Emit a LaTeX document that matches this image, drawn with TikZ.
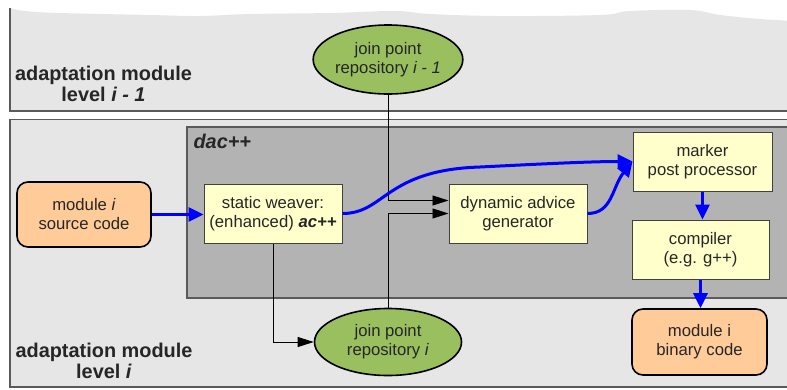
\documentclass[tikz,border=0pt]{standalone}
\usepackage{fontspec}
\setmainfont{Liberation Sans}
\usetikzlibrary{arrows.meta,shapes.geometric}

\definecolor{panelbg}{HTML}{E6E6E6}
\definecolor{panelline}{HTML}{5A5A5A}
\definecolor{dacbg}{HTML}{B3B3B3}
\definecolor{peach}{HTML}{FFCC99}
\definecolor{paleyellow}{HTML}{FFFFCC}
\definecolor{leaf}{HTML}{99BF5F}
\definecolor{flow}{HTML}{0000FF}

\begin{document}
\begin{tikzpicture}[x=1pt,y=-1pt,
  txt/.style={font=\fontsize{16.7}{19}\selectfont, align=center, text=black!85},
  proc/.style={txt, draw=black!75, line width=1pt, fill=paleyellow, inner sep=0pt},
  term/.style={txt, draw=black, line width=1.6pt, fill=peach, rounded corners=11pt, inner sep=0pt},
  repo/.style={txt, ellipse, draw=black, line width=1.6pt, fill=leaf, inner sep=0pt},
  level/.style={font=\fontsize{19.9}{21}\selectfont\bfseries, text=black!85},
  flowarrow/.style={draw=flow, line width=3pt, -{Triangle[length=15pt,width=14pt]}},
  ctrl/.style={draw=black, line width=0.8pt, -{Triangle[length=16pt,width=10pt]}},
  panel/.style={draw=panelline, line width=1.5pt},
]
\useasboundingbox (0,0) rectangle (787,389);

% upper panel with a torn top edge
\fill[panelbg] plot[smooth, tension=0.6] coordinates {(10,8) (25,11) (60,13) (150,15)
  (200,16) (250,14) (330,13) (395,11) (430,14) (500,16) (600,15) (630,11) (690,10)
  (720,15) (760,19) (795,21)} -- (795,111) -- (10,111) -- cycle;
\draw[panel] (10,8) -- (10,111) -- (795,111);

% lower panel
\draw[panel, fill=panelbg] (795,119.5) -- (10,119.5) -- (10,387) -- (795,387);

% dac++ region
\draw[draw=panelline, line width=1.2pt, fill=dacbg] (795,127) -- (187,127) -- (187,298) -- (795,298);

% level captions
\node[level, anchor=base] (upA) at (103.5,80) {adaptation module};
\node[level, anchor=base] (upB) at (103.5,101) {level \textit{i - 1}};
\node[level, anchor=base] (loA) at (104,357) {adaptation module};
\node[level, anchor=base] (loB) at (104,378) {level \textit{i}};
\node[level, anchor=base west] (dac) at (190,148) {\textit{dac++}};

% components
\node[term, minimum width=134, minimum height=65] (src) at (84,214.5) {module \textit{i}\\source code};
\node[proc, minimum width=138, minimum height=59] (weaver) at (273,213.5) {static weaver:\\(enhanced) \textbf{\textit{ac++}}};
\node[proc, minimum width=138, minimum height=59] (dyn) at (518,213.5) {dynamic advice\\generator};
\node[proc, minimum width=139, minimum height=59] (marker) at (702.5,161.5) {marker\\post processor};
\node[proc, minimum width=137, minimum height=59] (comp) at (700.5,249.5) {compiler\\(e.g. g++)};
\node[term, minimum width=135, minimum height=66] (bin) at (699.5,342) {module i\\binary code};
\node[repo, minimum width=149, minimum height=69] (jpa) at (388,59.5) {join point\\repository \textit{i - 1}};
\node[repo, minimum width=147, minimum height=67] (jpb) at (388,342) {join point\\repository \textit{i}};

% join point lookups
\draw[ctrl] (jpa.south) |- ([yshift=13pt]dyn.west);
\draw[ctrl] (jpb.north) |- (dyn.west);
\draw[ctrl] (weaver.south) |- (jpb.west);

% code flow
\draw[flowarrow] (src.east) -- (src.east -| weaver.west);
\draw[flowarrow] (weaver.east) .. controls (385,213.5) and (385,170) .. (480,167)
  .. controls (540,164) and (590,161.5) .. (marker.west);
\draw[flowarrow] (dyn.east) .. controls +(25,0) and (612,187) .. (marker.west);
\draw[flowarrow] (marker.south) -- (marker.south |- comp.north);
\draw[flowarrow] (comp.south) -- (comp.south |- bin.north);
\end{tikzpicture}
\end{document}
